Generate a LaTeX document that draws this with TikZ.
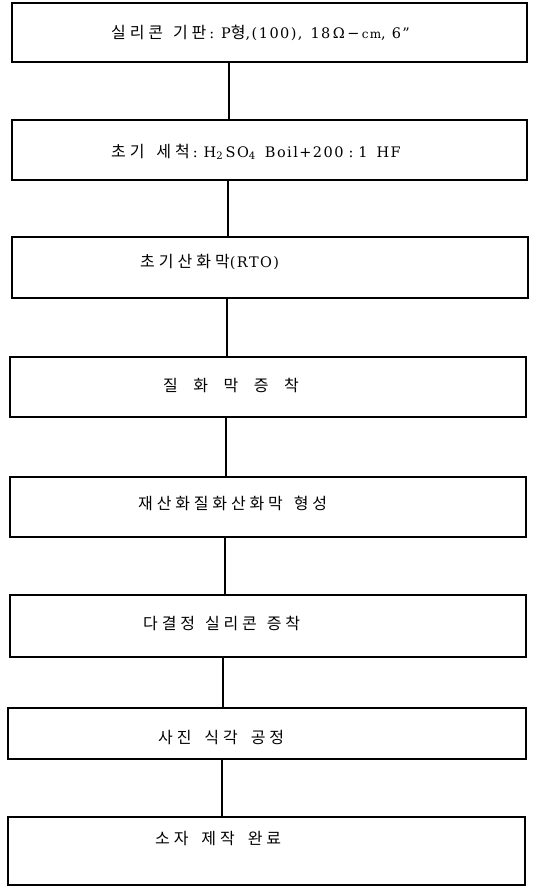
\documentclass[tikz,border=0pt]{standalone}
\usepackage{fontspec}
\setmainfont[LetterSpace=10]{DejaVu Serif}
\newfontfamily\kr[LetterSpace=24]{Noto Sans CJK KR}
\newfontfamily\krs{Noto Sans CJK KR}
\newcommand\K[1]{{\kr\fontsize{16}{18}\selectfont #1}}
\newcommand\KS[1]{{\krs\fontsize{16}{18}\selectfont #1}}
\begin{document}
\begin{tikzpicture}[x=1pt,y=-1pt,
  box/.style={draw, line width=1.3pt, rectangle, inner sep=0pt},
  lbl/.style={anchor=west, inner sep=0pt, font=\fontsize{14.5}{17}\selectfont},
  link/.style={line width=1.1pt}]
\useasboundingbox (0,0) rectangle (544,887);
\fill[white] (0,0) rectangle (544,887);
% boxes
\node[box, minimum width=515pt, minimum height=59pt] (b1) at (269.5,32.5) {};
\node[box, minimum width=515pt, minimum height=60pt] (b2) at (269.5,150) {};
\node[box, minimum width=516pt, minimum height=61pt] (b3) at (270,267.5) {};
\node[box, minimum width=516pt, minimum height=60pt] (b4) at (268,387) {};
\node[box, minimum width=516pt, minimum height=60pt] (b5) at (268,507) {};
\node[box, minimum width=516pt, minimum height=62pt] (b6) at (268,626) {};
\node[box, minimum width=518pt, minimum height=51pt] (b7) at (267,733.5) {};
\node[box, minimum width=517pt, minimum height=68pt] (b8) at (266.5,851) {};
% labels
\node[lbl] (t1) at (111,33) {\K{실리콘}\hspace{10pt}\K{기판}\hspace{3pt}:\hspace{7pt}P\KS{형},(100),\hspace{8pt}18\,Ω\,−\,{\fontsize{12}{14}\selectfont cm},\hspace{6pt}6"};
\node[lbl] (t2) at (111,152) {\K{초기}\hspace{12pt}\K{세척}\hspace{3pt}:\hspace{6pt}H\textsubscript{2}\,SO\textsubscript{4}\hspace{9pt}Boil+200\hspace{5pt}:\hspace{5pt}1\hspace{9pt}HF};
\node[lbl] (t3) at (140,262) {\K{초}\hspace{4pt}\K{기}\hspace{4pt}\K{산}\hspace{4pt}\K{화}\hspace{4pt}\K{막}(RTO)};
\node[lbl] (t4) at (163,385) {\KS{질}\hspace{15.5pt}\KS{화}\hspace{15.5pt}\KS{막}\hspace{15.5pt}\KS{증}\hspace{15.5pt}\KS{착}};
\node[lbl] (t5) at (138,503) {\K{재산화질화산화막}\hspace{11pt}\K{형성}};
\node[lbl] (t6) at (143,623) {\K{다결정}\hspace{10pt}\K{실리콘}\hspace{10pt}\K{증착}};
\node[lbl] (t7) at (158,737) {\K{사진}\hspace{13pt}\K{식각}\hspace{13pt}\K{공정}};
\node[lbl] (t8) at (155,838) {\K{소자}\hspace{13pt}\K{제작}\hspace{13pt}\K{완료}};
% connector columns
\coordinate (c1) at (229,0);
\coordinate (c2) at (228,0);
\coordinate (c3) at (227,0);
\coordinate (c4) at (226,0);
\coordinate (c5) at (225,0);
\coordinate (c6) at (223,0);
\coordinate (c7) at (222,0);
\draw[link] (b1.south -| c1) -- (b2.north -| c1);
\draw[link] (b2.south -| c2) -- (b3.north -| c2);
\draw[link] (b3.south -| c3) -- (b4.north -| c3);
\draw[link] (b4.south -| c4) -- (b5.north -| c4);
\draw[link] (b5.south -| c5) -- (b6.north -| c5);
\draw[link] (b6.south -| c6) -- (b7.north -| c6);
\draw[link] (b7.south -| c7) -- (b8.north -| c7);
\end{tikzpicture}
\end{document}
